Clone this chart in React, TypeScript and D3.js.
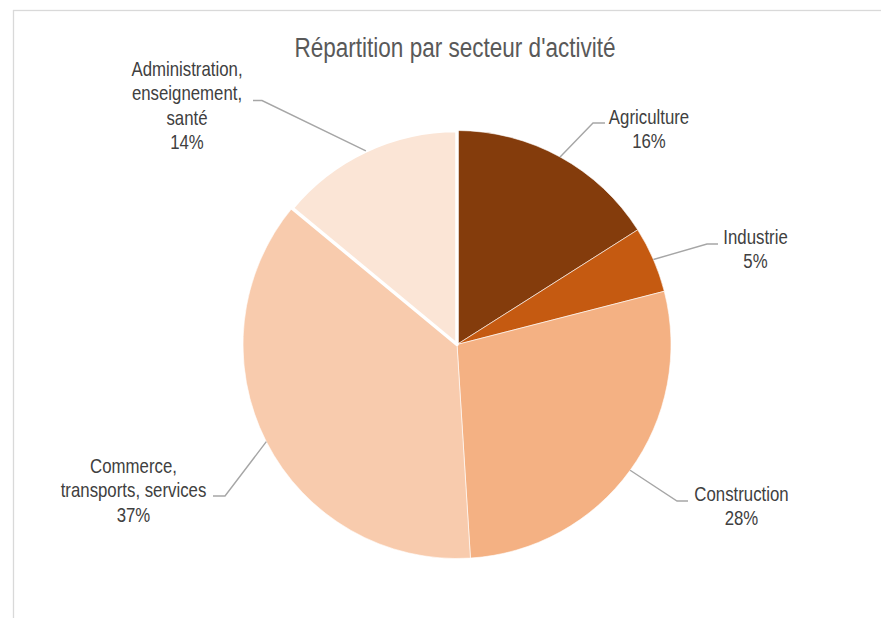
import * as d3 from "d3";

// données
const categories = [
  "Agriculture",
  "Industrie",
  "Construction",
  "Commerce, transports, services",
  "Administration, enseignement, santé",
];
const values = [16, 5, 28, 37, 14];
const labelLines = [
  ["Agriculture"],
  ["Industrie"],
  ["Construction"],
  ["Commerce,", "transports, services"],
  ["Administration,", "enseignement,", "santé"],
];
const colors = ["#843C0C", "#C55A11", "#F4B183", "#F8CBAD", "#FBE5D6"];

const W = 881;
const H = 618;
const cx = 457;
const cy = 344.5;
const R = 214;
// pas de police étroite installée : Liberation Sans compressée horizontalement
const FONT = "'Liberation Sans', Arial, sans-serif";
const NARROW = 0.82;

// placement des étiquettes : centre du texte, première ligne de base, coude et fin du trait de rappel
const labelLayout = [
  { tx: 649, ty: 124, ly: 123, elbow: 593, end: 605 },
  { tx: 755.5, ty: 244, ly: 244, elbow: 707, end: 718 },
  { tx: 741.5, ty: 501, ly: 501, elbow: 677, end: 688 },
  { tx: 133.5, ty: 473, ly: 496, elbow: 225, end: 213 },
  { tx: 187, ty: 76, ly: 100.5, elbow: 262, end: 253 },
];

export default function App() {
  const data = categories.map((c, i) => ({ name: c, value: values[i], i }));
  const pie = d3
    .pie<{ name: string; value: number; i: number }>()
    .value((d) => d.value)
    .sort(null);
  const arcs = pie(data);
  const arc = d3.arc<any>().innerRadius(0).outerRadius(R);
  const edge = d3.arc<any>().innerRadius(R).outerRadius(R);
  const total = d3.sum(values);

  return (
    <svg
      width={W}
      height={H}
      style={{ position: "absolute", left: 0, top: 0, background: "#fff" }}
    >
      <rect x={13.5} y={10.5} width={W + 40} height={H + 40} fill="none" stroke="#D9D9D9" strokeWidth={1.3} />
      <text
        transform={`translate(455,56.5) scale(${NARROW},1)`}
        textAnchor="middle"
        fontFamily={FONT}
        fontSize={27.5}
        fill="#595959"
      >
        Répartition par secteur d'activité
      </text>
      <g transform={`translate(${cx},${cy})`}>
        {arcs.map((a, k) => (
          <path
            key={k}
            d={arc(a) as string}
            fill={colors[k]}
            stroke="#fff"
            strokeWidth={k === 4 ? 3.5 : 0.6}
            strokeLinejoin="round"
          />
        ))}
      </g>
      {arcs.map((a, k) => {
        const [px, py] = edge.centroid(a);
        const L = labelLayout[k];
        const pct = Math.round((a.data.value / total) * 100) + "%";
        const lines = [...labelLines[k], pct];
        return (
          <g key={k}>
            <polyline
              points={`${cx + px},${cy + py} ${L.elbow},${L.ly} ${L.end},${L.ly}`}
              fill="none"
              stroke="#A6A6A6"
              strokeWidth={1.4}
            />
            <text
              transform={`translate(${L.tx},${L.ty}) scale(${NARROW},1)`}
              textAnchor="middle"
              fontFamily={FONT}
              fontSize={20.5}
              fill="#404040"
            >
              {lines.map((s, j) => (
                <tspan key={j} x={0} y={j * 24.5}>
                  {s}
                </tspan>
              ))}
            </text>
          </g>
        );
      })}
    </svg>
  );
}
